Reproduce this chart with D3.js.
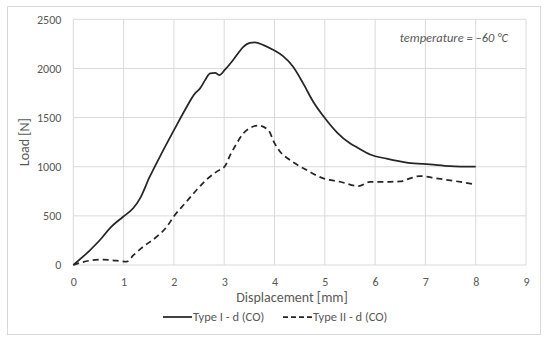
<!DOCTYPE html>
<html>
<head>
<meta charset="utf-8">
<script src="https://cdn.jsdelivr.net/npm/d3@7"></script>
<style>
  body { margin: 0; background: #fff; }
  text { font-family: Carlito, Lato, "Open Sans", sans-serif; fill: #595959; }
</style>
</head>
<body>
<div id="chart"></div>
<script>
// ---------------- data ----------------
var xTicks = [0, 1, 2, 3, 4, 5, 6, 7, 8, 9];
var yTicks = [0, 500, 1000, 1500, 2000, 2500];

// Type I - d (CO), solid
var typeIDisp = [0, 0.33, 0.53, 0.73, 0.99, 1.19, 1.33, 1.52, 1.72, 2.02, 2.22, 2.42, 2.52, 2.62, 2.72, 2.82, 2.9, 3.02, 3.15, 3.25, 3.38, 3.51, 3.61, 3.78, 3.98, 4.17, 4.37, 4.57, 4.77, 5.0, 5.24, 5.5, 5.63, 5.9, 6.23, 6.66, 7.09, 7.49, 8.0];
var typeILoad = [0, 150, 254, 376, 491, 577, 681, 898, 1101, 1390, 1577, 1746, 1797, 1881, 1950, 1956, 1932, 1990, 2068, 2136, 2220, 2261, 2265, 2237, 2187, 2125, 2017, 1848, 1661, 1495, 1350, 1238, 1200, 1125, 1082, 1040, 1024, 1007, 1000];

// Type II - d (CO), dashed
var typeIIDisp = [0, 0.33, 0.6, 0.86, 1.06, 1.2, 1.39, 1.66, 1.86, 2.0, 2.22, 2.45, 2.65, 2.85, 3.02, 3.12, 3.21, 3.38, 3.52, 3.68, 3.88, 4.0, 4.1, 4.31, 4.64, 4.97, 5.3, 5.67, 5.9, 6.3, 6.5, 6.69, 6.89, 7.22, 7.55, 8.0];
var typeIILoad = [0, 45, 55, 44, 34, 102, 186, 288, 390, 495, 627, 763, 870, 950, 1010, 1120, 1203, 1339, 1395, 1420, 1370, 1240, 1160, 1068, 966, 881, 847, 803, 847, 847, 850, 881, 905, 881, 857, 820];

var seriesNames = ["Type I - d (CO)", "Type II - d (CO)"];

// ---------------- canvas ----------------
var svgWidth = 550, svgHeight = 341;
var plot = {left: 73.3, right: 526, top: 19.3, bottom: 265};

var svg = d3.select("#chart").append("svg")
    .attr("width", svgWidth)
    .attr("height", svgHeight);

// outer chart border
svg.append("rect")
    .attr("x", 7.5).attr("y", 6.5)
    .attr("width", 533).attr("height", 328)
    .attr("fill", "#fff")
    .attr("stroke", "#d9d9d9");

// scales
var x = d3.scaleLinear().domain([0, 9]).range([plot.left, plot.right]);
var y = d3.scaleLinear().domain([0, 2500]).range([plot.bottom, plot.top]);

// gridlines
svg.append("g").selectAll("line").data(xTicks).enter().append("line")
    .attr("x1", d => x(d)).attr("x2", d => x(d))
    .attr("y1", plot.top).attr("y2", plot.bottom)
    .attr("stroke", "#d9d9d9").attr("stroke-width", 1);

svg.append("g").selectAll("line").data(yTicks).enter().append("line")
    .attr("x1", plot.left).attr("x2", plot.right)
    .attr("y1", d => y(d)).attr("y2", d => y(d))
    .attr("stroke", "#d9d9d9").attr("stroke-width", 1);

// axes (labels only, Excel style)
var xAxis = d3.axisBottom(x).tickValues(xTicks).tickSize(0).tickPadding(12).tickFormat(d3.format("d"));
var yAxis = d3.axisLeft(y).tickValues(yTicks).tickSize(0).tickPadding(12).tickFormat(d3.format("d"));

var gx = svg.append("g").attr("transform", `translate(0, ${plot.bottom})`).call(xAxis);
var gy = svg.append("g").attr("transform", `translate(${plot.left}, 0)`).call(yAxis);
[gx, gy].forEach(function(g) {
  g.select(".domain").remove();
  g.selectAll("text").style("font-size", "12px").attr("fill", "#595959")
    .style("font-family", "Carlito, Lato, 'Open Sans', sans-serif");
});

// lines (smoothed like Excel's scatter lines)
var line = d3.line().x(d => x(d[0])).y(d => y(d[1])).curve(d3.curveMonotoneX);
var typeI = d3.zip(typeIDisp, typeILoad);
var typeII = d3.zip(typeIIDisp, typeIILoad);

svg.append("path").datum(typeI)
    .attr("d", line)
    .attr("fill", "none")
    .attr("stroke", "#262626")
    .attr("stroke-width", 1.75)
    .attr("stroke-linejoin", "round");

svg.append("path").datum(typeII)
    .attr("d", line)
    .attr("fill", "none")
    .attr("stroke", "#262626")
    .attr("stroke-width", 1.75)
    .attr("stroke-dasharray", "6,4");

// annotation
svg.append("text")
    .attr("x", 508).attr("y", 42)
    .attr("text-anchor", "end")
    .style("font-size", "12.5px")
    .style("font-style", "italic")
    .attr("fill", "#404040")
    .text("temperature = \u201360 \u00b0C");

// axis titles
svg.append("text")
    .attr("x", 292).attr("y", 302)
    .attr("text-anchor", "middle")
    .style("font-size", "14px")
    .text("Displacement [mm]");

svg.append("text")
    .attr("transform", `translate(29, ${(plot.top + plot.bottom) / 2}) rotate(-90)`)
    .attr("text-anchor", "middle")
    .style("font-size", "14px")
    .text("Load [N]");

// legend
var legend = [
  {name: seriesNames[0], x1: 163, dash: null},
  {name: seriesNames[1], x1: 283, dash: "5,3"}
];
var lg = svg.append("g");
legend.forEach(function(l) {
  lg.append("line")
    .attr("x1", l.x1).attr("x2", l.x1 + 29)
    .attr("y1", 317).attr("y2", 317)
    .attr("stroke", "#262626").attr("stroke-width", 1.75)
    .attr("stroke-dasharray", l.dash);
  lg.append("text")
    .attr("x", l.x1 + 30).attr("y", 321)
    .style("font-size", "12.5px")
    .text(l.name);
});
</script>
</body>
</html>
